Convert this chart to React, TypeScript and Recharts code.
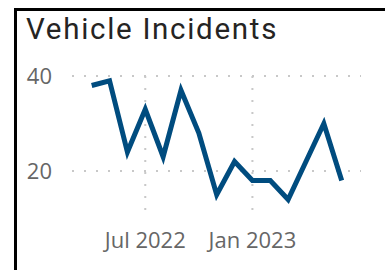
import { LineChart, Line, XAxis, YAxis, CartesianGrid } from "recharts";

// monthly counts, Apr 2022 – Jun 2023
const months = [
  "Apr 2022", "May 2022", "Jun 2022", "Jul 2022", "Aug 2022", "Sep 2022",
  "Oct 2022", "Nov 2022", "Dec 2022", "Jan 2023", "Feb 2023", "Mar 2023",
  "Apr 2023", "May 2023", "Jun 2023",
];
const incidents = [38, 39, 24, 33, 23, 37, 28, 15, 22, 18, 18, 14, 22, 30, 18];
const xTicks = ["Jul 2022", "Jan 2023"];
const yTicks = [20, 40];

const data = months.map((m, i) => ({ month: m, incidents: incidents[i] }));

const tickStyle = { fontSize: 22, fill: "#666666", fontFamily: "'Open Sans', sans-serif" };

export default function App() {
  return (
    <div
      style={{
        position: "absolute",
        left: 0,
        top: 0,
        width: 385,
        height: 270,
        overflow: "hidden",
        background: "#fff",
      }}
    >
      {/* card border, only top and left edges fall inside the frame */}
      <div
        style={{
          position: "absolute",
          left: 14,
          top: 8,
          width: 400,
          height: 300,
          borderLeft: "3px solid #000",
          borderTop: "3px solid #000",
        }}
      />
      <svg width={385} height={60} style={{ position: "absolute", left: 0, top: 0 }}>
        <text
          x={26}
          y={39}
          fontSize={29.5}
          letterSpacing={1.7}
          fill="#252423"
          fontFamily="Roboto, sans-serif"
        >
          Vehicle Incidents
        </text>
      </svg>
      <div style={{ position: "absolute", left: 0, top: 0 }}>
        <LineChart
          width={385}
          height={270}
          data={data}
          margin={{ top: 76, right: 24, bottom: 21.5, left: 22 }}
        >
          {/* syncWithTicks: grid only at the ticks, none along the plot edges */}
          <CartesianGrid
            stroke="#c8c8c8"
            strokeWidth={2}
            strokeDasharray="2 10"
            syncWithTicks
          />
          <XAxis
            dataKey="month"
            ticks={xTicks}
            interval={0}
            height={30}
            axisLine={false}
            tickLine={false}
            tickSize={0}
            tickMargin={14}
            padding={{ left: 19.7, right: 19.3 }}
            tick={tickStyle}
          />
          <YAxis
            domain={[10, 40]}
            ticks={yTicks}
            width={50}
            axisLine={false}
            tickLine={false}
            tickSize={0}
            tickMargin={20}
            tick={tickStyle}
          />
          <Line
            dataKey="incidents"
            type="linear"
            stroke="#004c7f"
            strokeWidth={5}
            dot={false}
            activeDot={false}
            isAnimationActive={false}
          />
        </LineChart>
      </div>
    </div>
  );
}
